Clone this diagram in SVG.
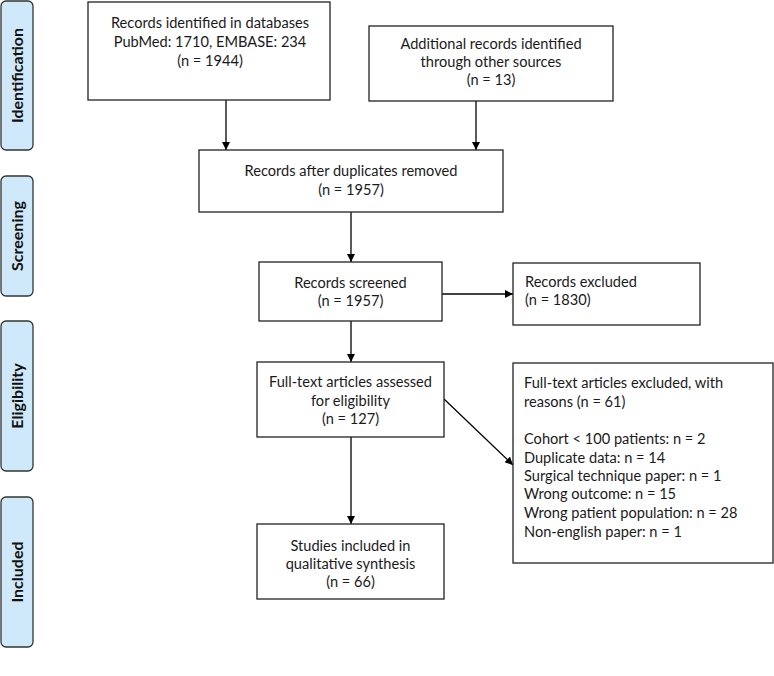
<svg xmlns="http://www.w3.org/2000/svg" width="774" height="676" viewBox="0 0 774 676">
<defs>
<marker id="ah" viewBox="0 0 10 10" refX="10" refY="5" markerWidth="8" markerHeight="8" markerUnits="userSpaceOnUse" orient="auto">
<path d="M0,0 L10,5 L0,10 z" fill="#000"/>
</marker>
<style>
.box{fill:#fff;stroke:#222;stroke-width:1.3}
.side{fill:#cfe9fb;stroke:#333;stroke-width:1.3}
.t{font-family:Lato,"Liberation Sans",sans-serif;font-size:14.6px;fill:#1a1a1a}
.c{text-anchor:middle}
.s{font-family:Lato,"Liberation Sans",sans-serif;font-size:16px;font-weight:bold;fill:#111;text-anchor:middle}
.ln{stroke:#000;stroke-width:1.3;fill:none;marker-end:url(#ah)}
</style>
</defs>
<rect width="774" height="676" fill="#fff"/>
<g id="phase-identification"><rect class="side" x="1" y="1" width="32" height="149" rx="5"/><text class="s" transform="translate(23,75.5) rotate(-90)">Identification</text></g>
<g id="phase-screening"><rect class="side" x="1" y="176" width="32" height="120" rx="5"/><text class="s" transform="translate(23,236) rotate(-90)">Screening</text></g>
<g id="phase-eligibility"><rect class="side" x="1" y="321" width="32" height="150" rx="5"/><text class="s" transform="translate(23,396) rotate(-90)">Eligibility</text></g>
<g id="phase-included"><rect class="side" x="1" y="497" width="32" height="150" rx="5"/><text class="s" transform="translate(23,572) rotate(-90)">Included</text></g>

<g id="connectors">
<line class="ln" x1="226" y1="100" x2="226" y2="150"/>
<line class="ln" x1="476" y1="101" x2="476" y2="150"/>
<line class="ln" x1="351" y1="212" x2="351" y2="262"/>
<line class="ln" x1="442" y1="294" x2="513" y2="294"/>
<line class="ln" x1="351" y1="321" x2="351" y2="362"/>
<line class="ln" x1="444" y1="399" x2="513" y2="465"/>
<line class="ln" x1="351" y1="437" x2="351" y2="524"/>
</g>

<g id="databases"><rect class="box" x="88" y="2" width="242" height="98"/>
<text class="t c" x="210" y="28">Records identified in databases</text>
<text class="t c" x="210" y="47">PubMed: 1710, EMBASE: 234</text>
<text class="t c" x="210" y="66">(n = 1944)</text></g>

<g id="other-sources"><rect class="box" x="369" y="26" width="244" height="75"/>
<text class="t c" x="491" y="49">Additional records identified</text>
<text class="t c" x="491" y="67">through other sources</text>
<text class="t c" x="491" y="85">(n = 13)</text></g>

<g id="after-duplicates"><rect class="box" x="199" y="150" width="304" height="62"/>
<text class="t c" x="351" y="176">Records after duplicates removed</text>
<text class="t c" x="351" y="195">(n = 1957)</text></g>

<g id="screened"><rect class="box" x="259" y="262" width="183" height="59"/>
<text class="t c" x="350.5" y="288">Records screened</text>
<text class="t c" x="350.5" y="306">(n = 1957)</text></g>

<g id="excluded"><rect class="box" x="513" y="263" width="187" height="62"/>
<text class="t" x="525" y="287">Records excluded</text>
<text class="t" x="525" y="305">(n = 1830)</text></g>

<g id="fulltext"><rect class="box" x="257" y="362" width="187" height="75"/>
<text class="t c" x="350.5" y="387">Full-text articles assessed</text>
<text class="t c" x="350.5" y="406">for eligibility</text>
<text class="t c" x="350.5" y="424">(n = 127)</text></g>

<g id="fulltext-excluded"><rect class="box" x="513" y="363" width="260" height="200"/>
<text class="t" x="524" y="388">Full-text articles excluded, with</text>
<text class="t" x="524" y="407">reasons (n = 61)</text>
<text class="t" x="524" y="444">Cohort &lt; 100 patients: n = 2</text>
<text class="t" x="524" y="463">Duplicate data: n = 14</text>
<text class="t" x="524" y="481">Surgical technique paper: n = 1</text>
<text class="t" x="524" y="499">Wrong outcome: n = 15</text>
<text class="t" x="524" y="518">Wrong patient population: n = 28</text>
<text class="t" x="524" y="537">Non-english paper: n = 1</text></g>

<g id="included"><rect class="box" x="257" y="524" width="187" height="75"/>
<text class="t c" x="350.5" y="551">Studies included in</text>
<text class="t c" x="350.5" y="569">qualitative synthesis</text>
<text class="t c" x="350.5" y="587">(n = 66)</text></g>
</svg>
